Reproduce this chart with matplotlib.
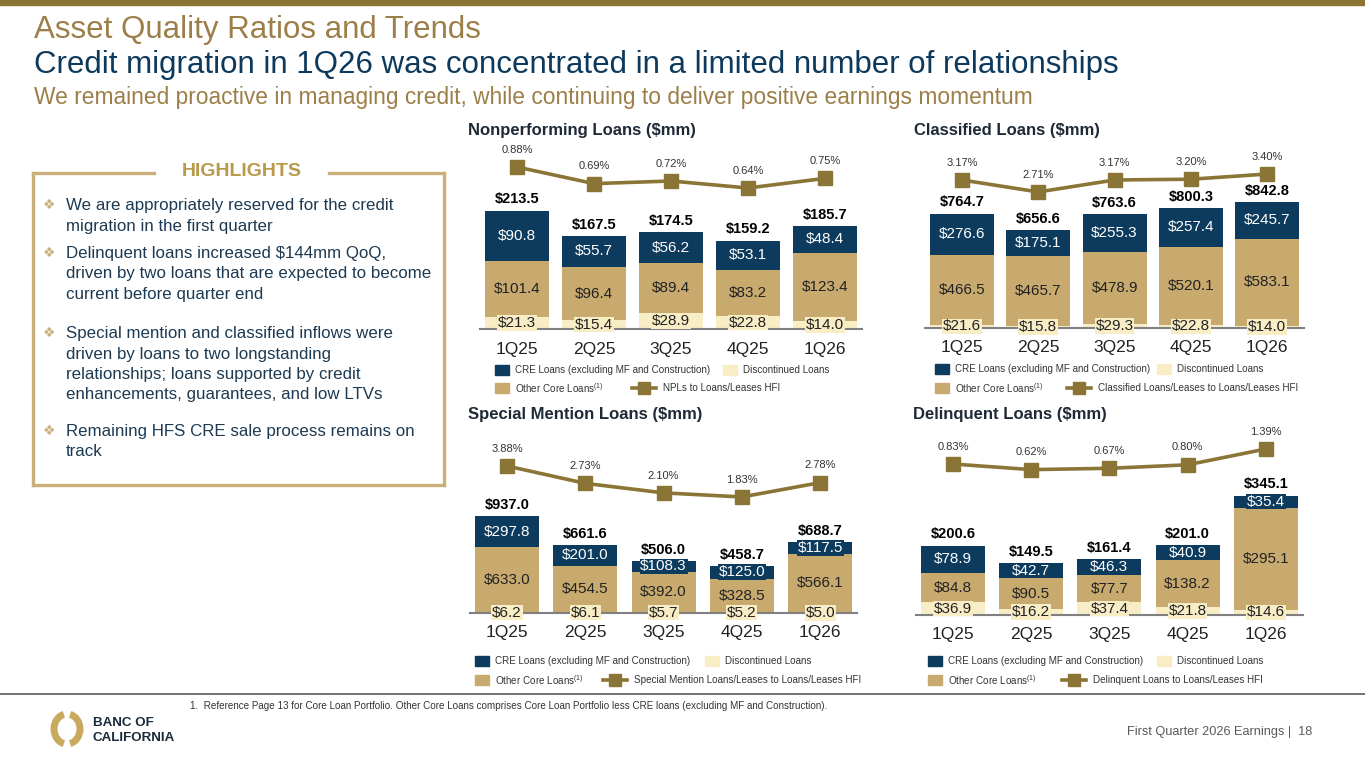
import matplotlib.pyplot as plt
from matplotlib.patches import Rectangle, Arc
from matplotlib.lines import Line2D

plt.rcParams['font.family'] = ['Liberation Sans', 'DejaVu Sans']
plt.rcParams['mathtext.fontset'] = 'custom'
plt.rcParams['mathtext.rm'] = 'Liberation Sans'

W, H = 1365, 768

NAVY = '#0c3b5d'
TAN = '#c8aa6e'
CREAM = '#f9edc6'
OLIVE = '#8b7536'
GOLD_TITLE = '#9c7f48'
TEXT_NAVY = '#1d3a52'
DARK = '#222222'

quarters = ['1Q25', '2Q25', '3Q25', '4Q25', '1Q26']

# Nonperforming loans ($mm)
npl_cre = [90.8, 55.7, 56.2, 53.1, 48.4]
npl_other = [101.4, 96.4, 89.4, 83.2, 123.4]
npl_disc = [21.3, 15.4, 28.9, 22.8, 14.0]
npl_total = [213.5, 167.5, 174.5, 159.2, 185.7]
npl_ratio = [0.88, 0.69, 0.72, 0.64, 0.75]

# Classified loans ($mm)
cls_cre = [276.6, 175.1, 255.3, 257.4, 245.7]
cls_other = [466.5, 465.7, 478.9, 520.1, 583.1]
cls_disc = [21.6, 15.8, 29.3, 22.8, 14.0]
cls_total = [764.7, 656.6, 763.6, 800.3, 842.8]
cls_ratio = [3.17, 2.71, 3.17, 3.20, 3.40]

# Special mention loans ($mm)
sm_cre = [297.8, 201.0, 108.3, 125.0, 117.5]
sm_other = [633.0, 454.5, 392.0, 328.5, 566.1]
sm_disc = [6.2, 6.1, 5.7, 5.2, 5.0]
sm_total = [937.0, 661.6, 506.0, 458.7, 688.7]
sm_ratio = [3.88, 2.73, 2.10, 1.83, 2.78]

# Delinquent loans ($mm)
dq_cre = [78.9, 42.7, 46.3, 40.9, 35.4]
dq_other = [84.8, 90.5, 77.7, 138.2, 295.1]
dq_disc = [36.9, 16.2, 37.4, 21.8, 14.6]
dq_total = [200.6, 149.5, 161.4, 201.0, 345.1]
dq_ratio = [0.83, 0.62, 0.67, 0.80, 1.39]

highlights = [
    ['We are appropriately reserved for the credit',
     'migration in the first quarter'],
    ['Delinquent loans increased $144mm QoQ,',
     'driven by two loans that are expected to become',
     'current before quarter end'],
    ['Special mention and classified inflows were',
     'driven by loans to two longstanding',
     'relationships; loans supported by credit',
     'enhancements, guarantees, and low LTVs'],
    ['Remaining HFS CRE sale process remains on',
     'track'],
]
highlight_y = [205, 253, 333, 431]

fig = plt.figure(figsize=(W / 100, H / 100), dpi=100)


def fx(x):
    return x / W


def fy(y):
    return 1 - y / H


def px_box(left, top, right, bottom):
    return [left / W, 1 - bottom / H, (right - left) / W, (bottom - top) / H]


def money(v):
    return f'${v:.1f}'


def draw_chart(title, cre, other, disc, total, ratio, ratio_name, lay):
    c0, step, base, top = lay['c0'], lay['step'], lay['base'], lay['top']
    left = c0 - 37
    right = c0 + 4 * step + 37
    ax = fig.add_axes(px_box(left, top, right, base))
    ax.set_xlim((left - c0) / step, (right - c0) / step)
    ax.set_ylim(0, (base - top) / lay['scale'])
    x = list(range(len(quarters)))
    w = 64 / step
    mid = [d + o for d, o in zip(disc, other)]
    ax.bar(x, disc, w, color=CREAM, zorder=1)
    ax.bar(x, other, w, bottom=disc, color=TAN, zorder=1)
    ax.bar(x, cre, w, bottom=mid, color=NAVY, zorder=1)
    for i in x:
        ax.text(i, disc[i] / 2, money(disc[i]), ha='center', va='center',
                fontsize=11, color=DARK, zorder=4,
                bbox=dict(fc=CREAM, ec='none', pad=0.6))
        ax.text(i, disc[i] + other[i] / 2, money(other[i]), ha='center',
                va='center', fontsize=11, color=DARK, zorder=4,
                bbox=dict(fc=TAN, ec='none', pad=0.6))
        ax.text(i, mid[i] + cre[i] / 2, money(cre[i]), ha='center',
                va='center', fontsize=11, color='white', zorder=5,
                bbox=dict(fc=NAVY, ec='none', pad=0.6))
        ax.annotate(money(total[i]), (i, total[i]), xytext=(0, 3),
                    textcoords='offset points', ha='center', va='bottom',
                    fontsize=10.5, fontweight='bold', color='black')
    ax.set_xticks(x, quarters)
    ax.tick_params(axis='x', length=0, pad=9, labelsize=12.5, labelcolor=DARK)
    ax.set_yticks([])
    for s in ['top', 'left', 'right']:
        ax.spines[s].set_visible(False)
    ax.spines['bottom'].set_color('#808080')
    ax.spines['bottom'].set_linewidth(1.5)
    ax.patch.set_alpha(0)

    # ratio line on its own scale above the bars
    v0, p0 = lay['anchor']
    slope = lay['slope']
    ax2 = ax.twinx()
    ax2.set_ylim(v0 - (base - p0) / slope, v0 + (p0 - top) / slope)
    ax2.plot(x, ratio, color=OLIVE, lw=2.6, marker='s', ms=10, zorder=3)
    for i in x:
        ax2.annotate(f'{ratio[i]:.2f}%', (i, ratio[i]), xytext=(0, 12.5),
                     textcoords='offset points', ha='center', va='center',
                     fontsize=8, color='#333333')
    ax2.set_yticks([])
    for s in ax2.spines.values():
        s.set_visible(False)

    tx, ty = lay['title']
    fig.text(fx(tx), fy(ty), title, fontsize=12, fontweight='bold',
             color='#1f2a36', va='center')

    # legend
    sx, y1, y2 = lay['leg']
    dx, lx = lay['leg_disc'], lay['leg_line']
    for (px, py, col, lab) in [(sx, y1, NAVY, 'CRE Loans (excluding MF and Construction)'),
                               (dx, y1, CREAM, 'Discontinued Loans'),
                               (sx, y2, TAN, r'Other Core Loans$^{(1)}$')]:
        fig.patches.append(Rectangle((fx(px), fy(py + 5)), 14 / W, 10 / H,
                                     transform=fig.transFigure, color=col))
        fig.text(fx(px + 20), fy(py), lab, fontsize=7.1, color='#333333',
                 va='center')
    fig.lines.append(Line2D([fx(lx), fx(lx + 24)], [fy(y2), fy(y2)],
                            transform=fig.transFigure, color=OLIVE, lw=2.6))
    fig.lines.append(Line2D([fx(lx + 12)], [fy(y2)], transform=fig.transFigure,
                            color=OLIVE, marker='s', ms=9, lw=0))
    fig.text(fx(lx + 31), fy(y2), ratio_name, fontsize=7.1, color='#333333',
             va='center')


layouts = {
    'npl': dict(c0=517, step=77, base=329, top=140, scale=0.555,
                anchor=(0.88, 167), slope=87.5, title=(468, 131),
                leg=(495, 370, 388), leg_disc=723, leg_line=632),
    'cls': dict(c0=962, step=76.3, base=328, top=140, scale=0.1497,
                anchor=(3.17, 180), slope=26, title=(914, 131),
                leg=(935, 369, 388), leg_disc=1157, leg_line=1067),
    'sm': dict(c0=507, step=78.3, base=613, top=425, scale=0.103,
               anchor=(3.88, 466), slope=15.1, title=(468, 415),
               leg=(475, 661, 680), leg_disc=705, leg_line=603),
    'dq': dict(c0=953, step=78.2, base=615, top=425, scale=0.346,
               anchor=(0.83, 464), slope=26.8, title=(913, 415),
               leg=(928, 661, 680), leg_disc=1157, leg_line=1062),
}

draw_chart('Nonperforming Loans ($mm)', npl_cre, npl_other, npl_disc,
           npl_total, npl_ratio, 'NPLs to Loans/Leases HFI', layouts['npl'])
draw_chart('Classified Loans ($mm)', cls_cre, cls_other, cls_disc,
           cls_total, cls_ratio, 'Classified Loans/Leases to Loans/Leases HFI',
           layouts['cls'])
draw_chart('Special Mention Loans ($mm)', sm_cre, sm_other, sm_disc,
           sm_total, sm_ratio,
           'Special Mention Loans/Leases to Loans/Leases HFI', layouts['sm'])
draw_chart('Delinquent Loans ($mm)', dq_cre, dq_other, dq_disc,
           dq_total, dq_ratio, 'Delinquent Loans to Loans/Leases HFI',
           layouts['dq'])

# header
fig.patches.append(Rectangle((0, fy(5)), 1, 5 / H, transform=fig.transFigure,
                             color='#8b7332'))
fig.text(fx(34), fy(38), 'Asset Quality Ratios and Trends', fontsize=22.5,
         color=GOLD_TITLE, va='baseline')
fig.text(fx(34), fy(73),
         'Credit migration in 1Q26 was concentrated in a limited number of relationships',
         fontsize=22.5, color='#0d3a5c', va='baseline')
fig.text(fx(34), fy(104),
         'We remained proactive in managing credit, while continuing to deliver positive earnings momentum',
         fontsize=16.4, color=GOLD_TITLE, va='baseline')

# highlights box
BOX = '#c9b07a'
for xs, ys in [([33, 33], [173, 485]), ([33, 444], [485, 485]),
               ([444, 444], [173, 485]), ([33, 154], [173, 173]),
               ([329, 444], [173, 173])]:
    fig.lines.append(Line2D([fx(v) for v in xs], [fy(v) for v in ys],
                            transform=fig.transFigure, color=BOX, lw=2.4))
fig.text(fx(242), fy(172), 'HIGHLIGHTS', ha='center', va='center',
         fontsize=14, fontweight='bold', color='#b89a4a')
for lines, y0 in zip(highlights, highlight_y):
    fig.text(fx(49), fy(y0), '\u2756', family='DejaVu Sans', fontsize=10,
             color=BOX, ha='center', va='center')
    for k, line in enumerate(lines):
        fig.text(fx(66), fy(y0 + 5 + k * 20.5), line, fontsize=12.2,
                 color=TEXT_NAVY, va='baseline')

# footer
fig.lines.append(Line2D([0, 1], [fy(694), fy(694)], transform=fig.transFigure,
                        color='#595959', lw=1.2))
fig.text(fx(190), fy(706),
         '1.  Reference Page 13 for Core Loan Portfolio. Other Core Loans comprises '
         'Core Loan Portfolio less CRE loans (excluding MF and Construction).',
         fontsize=7.1, color='#333333', va='center')
fig.text(fx(1312), fy(732), 'First Quarter 2026 Earnings |  18', ha='right',
         va='center', fontsize=9.2, color='#595959')

# logo
lax = fig.add_axes(px_box(48, 708, 86, 750))
lax.set_xlim(48, 86)
lax.set_ylim(750, 708)
lax.axis('off')
lax.add_patch(Arc((67, 729), 26, 30, theta1=102, theta2=258, color='#c9a95c', lw=5))
lax.add_patch(Arc((67, 729), 26, 30, theta1=-78, theta2=78, color='#c9a95c', lw=5))
fig.text(fx(93), fy(723), 'BANC OF', fontsize=9.6, fontweight='bold',
         color='#1b2a3a', va='center')
fig.text(fx(93), fy(738), 'CALIFORNIA', fontsize=9.6, fontweight='bold',
         color='#1b2a3a', va='center')

fig.savefig('out.png', dpi=100)
